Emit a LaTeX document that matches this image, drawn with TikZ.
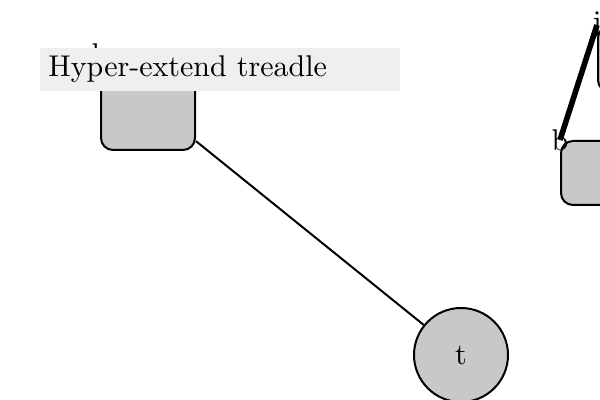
\documentclass[tikz,border=0pt]{standalone}
\usepackage{fontspec}
\newfontfamily\designten{lmroman10-regular.otf}
\usepackage{xcolor}
\definecolor{boxGray}{HTML}{C8C8C8}
\definecolor{bannerGray}{HTML}{EFEFEF}
\usepackage{tikz}
\usetikzlibrary{calc}
\newcommand{\bigtext}{\designten\fontsize{15}{18}\selectfont}
\tikzset{
    part/.style={draw=black,fill=boxGray,line width=1pt,rounded corners=6pt,inner sep=0pt},
    joint/.style={circle,draw=black,fill=boxGray,line width=1pt,inner sep=0pt,minimum size=47pt,font=\bigtext},
    tag/.style={inner sep=0pt,font=\bigtext},
    link/.style={draw=black,line width=1pt},
    heavylink/.style={draw=black,line width=2.8pt},
    banner/.style={fill=bannerGray,anchor=west,inner sep=4pt,text width=172pt,minimum height=19.5pt,align=left,font=\bigtext}
}

\begin{document}
\begin{tikzpicture}[x=0.5pt,y=-0.5pt]
  % frame
  \useasboundingbox (0,0) rectangle (600,400);
  \clip (0,0) rectangle (600,400);

  % parts
  \node[part,minimum width=47pt,minimum height=47.5pt] (h) at (148,102.5) {};
  \node[part,minimum width=47pt,minimum height=32pt] (b) at (608,173) {};
  \node[part,minimum width=47pt,minimum height=33pt] (j) at (645,59) {};
  \node[joint] (t) at (461,355) {t};

  % corner labels
  \node[tag] (hl) at (h.north west) {h};
  \node[tag] (bl) at (b.north west) {b};
  \node[tag] (jl) at (j.north west) {j};

  % connectors
  \draw[link] (h) -- (t);
  \draw[heavylink] (b.north west) -- (j.north west);

  % title strip
  \node[banner] (title) at (40,69.5) {Hyper-extend treadle};
\end{tikzpicture}
\end{document}
